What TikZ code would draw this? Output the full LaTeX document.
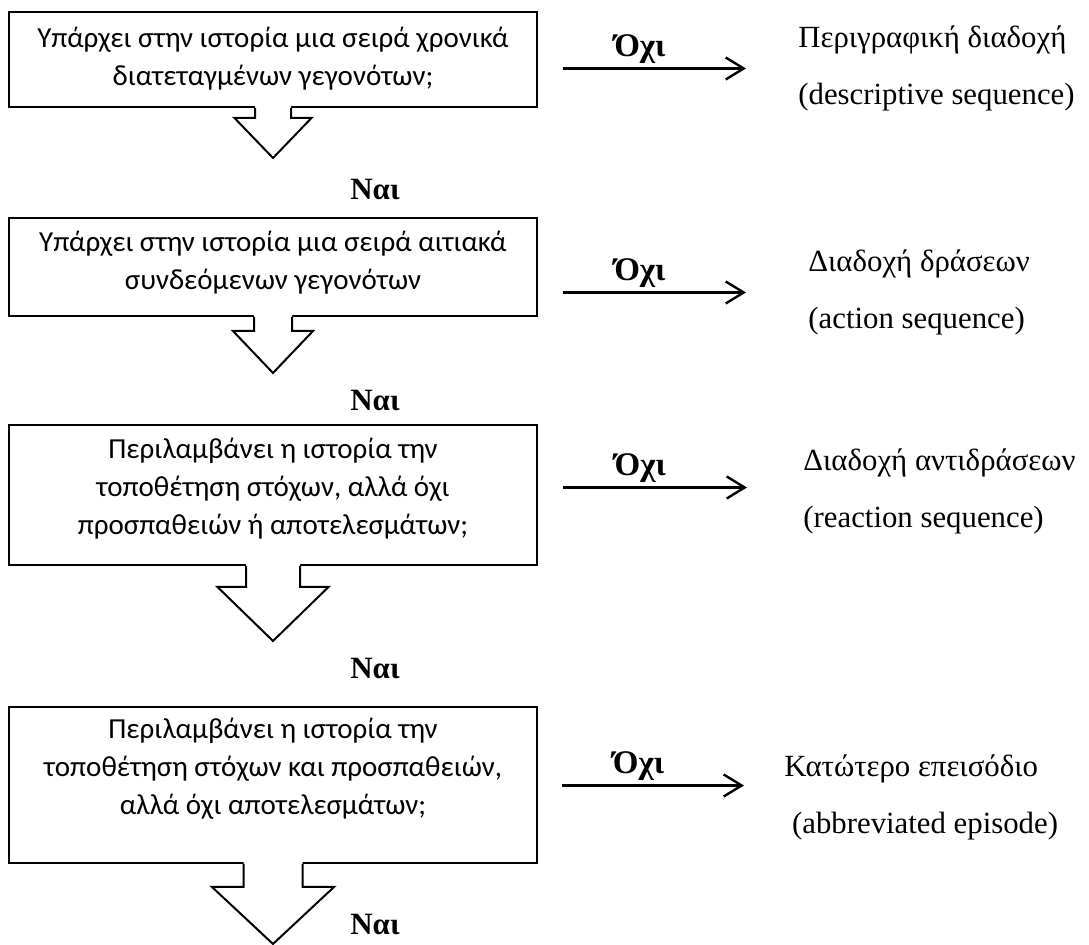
\documentclass[tikz,border=0pt]{standalone}
\usepackage{fontspec}
\setmainfont{Liberation Serif}
\newfontfamily\qfont{Carlito}
\usetikzlibrary{arrows.meta,positioning,fit}

% block arrow under a box: node, shaft half width, shaft length, head half width, head length
\newcommand\blkarrow[5]{%
  \fill[white] (#1.south) ++(-#2,-2) -- ++(0,#3+2) -- ++(#2-#4,0) -- ++(#4,#5)
    -- ++(#4,-#5) -- ++(#2-#4,0) -- ++(0,-#3-2) -- cycle;
  \draw[blk] (#1.south) ++(-#2,0) -- ++(0,#3) -- ++(#2-#4,0) -- ++(#4,#5)
    -- ++(#4,-#5) -- ++(#2-#4,0) -- ++(0,-#3);
}

\begin{document}
\begin{tikzpicture}[x=0.5pt, y=-0.5pt,
    qtxt/.style={font=\qfont\fontsize{14.5}{19}\selectfont, align=center, inner sep=0pt},
    qbox/.style={draw, line width=1pt, inner sep=0pt},
    res/.style={font=\fontsize{15.4}{28.5}\selectfont, align=left, anchor=west, inner sep=0pt},
    yes/.style={font=\bfseries\fontsize{15.5}{18}\selectfont, inner sep=0pt},
    noarr/.style={line width=1.2pt, -{Straight Barb[length=9pt, width=11pt]}},
    nolbl/.style={font=\bfseries\fontsize{16.5}{19}\selectfont, above=2pt, pos=0.42, inner sep=0pt},
    blk/.style={line width=1pt}
  ]
    \useasboundingbox (0,0) rectangle (1089,945);

    %% -- questions --
    \node[qbox, fit={(9,12) (537,107)}]   (b1) {};
    \node[qtxt] (q1) at (273,59)  {Υπάρχει στην ιστορία μια σειρά χρονικά\\διατεταγμένων γεγονότων;};
    \node[qbox, fit={(9,218) (537,316)}]  (b2) {};
    \node[qtxt] (q2) at (273,263) {Υπάρχει στην ιστορία μια σειρά αιτιακά\\συνδεόμενων γεγονότων};
    \node[qbox, fit={(9,425) (537,565)}]  (b3) {};
    \node[qtxt] (q3) at (273,489) {Περιλαμβάνει η ιστορία την\\τοποθέτηση στόχων, αλλά όχι\\προσπαθειών ή αποτελεσμάτων;};
    \node[qbox, fit={(9,707) (537,863)}]  (b4) {};
    \node[qtxt] (q4) at (273,769) {Περιλαμβάνει η ιστορία την\\τοποθέτηση στόχων και προσπαθειών,\\αλλά όχι αποτελεσμάτων;};

    %% -- yes branch --
    \blkarrow{b1}{18}{10}{38.5}{40}
    \blkarrow{b2}{19}{14}{40}{42}
    \blkarrow{b3}{27}{21}{55.5}{54}
    \blkarrow{b4}{29.5}{23}{61}{57}
    \node[yes] (y1) at (375,190) {Ναι};
    \node[yes] (y2) at (375,401) {Ναι};
    \node[yes] (y3) at (375,669) {Ναι};
    \node[yes] (y4) at (375,925) {Ναι};

    %% -- outcomes --
    \node[res] (r1) at (798,68.5)  {Περιγραφική διαδοχή\\(descriptive sequence)};
    \node[res] (r2) at (808,292.5) {Διαδοχή δράσεων\\(action sequence)};
    \node[res] (r3) at (803,491.5) {Διαδοχή αντιδράσεων\\(reaction sequence)};
    \node[res] (r4) at (784,797.5) {Κατώτερο επεισόδιο\\\ (abbreviated episode)};

    %% -- no branch --
    \draw[noarr] ([xshift=12.5pt]b1.east |- r1.west) -- node[nolbl] {Όχι} ([xshift=-26pt]r1.west);
    \draw[noarr] ([xshift=12.5pt]b2.east |- r2.west) -- node[nolbl] {Όχι} ([xshift=-31pt]r2.west);
    \draw[noarr] ([xshift=12.5pt,yshift=2pt]b3.east |- r3.west) -- node[nolbl] {Όχι} ([xshift=-28pt,yshift=2pt]r3.west);
    \draw[noarr] ([xshift=12pt,yshift=6pt]b4.east |- r4.west) -- node[nolbl] {Όχι} ([xshift=-20pt,yshift=6pt]r4.west);
  \end{tikzpicture}
\end{document}
